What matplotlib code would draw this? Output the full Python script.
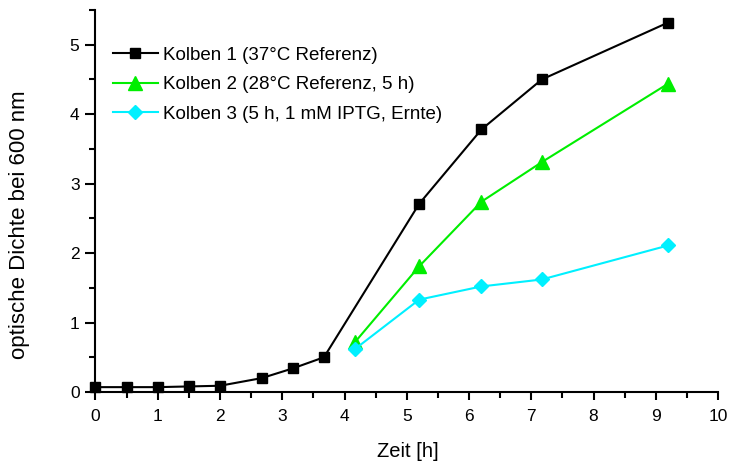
import matplotlib
matplotlib.use("Agg")
import matplotlib.pyplot as plt
from matplotlib.ticker import MultipleLocator

plt.rcParams['font.family'] = ['Liberation Sans', 'DejaVu Sans']

x1 = [0, 0.5, 1, 1.5, 2, 2.67, 3.17, 3.67, 5.2, 6.2, 7.17, 9.2]
y1 = [0.07, 0.07, 0.07, 0.08, 0.09, 0.20, 0.34, 0.50, 2.71, 3.78, 4.50, 5.32]
x2 = [4.17, 5.2, 6.2, 7.17, 9.2]
y2 = [0.72, 1.81, 2.74, 3.31, 4.44]
x3 = [4.17, 5.2, 6.2, 7.17, 9.2]
y3 = [0.62, 1.33, 1.52, 1.62, 2.11]
labels = ["Kolben 1 (37°C Referenz)", "Kolben 2 (28°C Referenz, 5 h)",
          "Kolben 3 (5 h, 1 mM IPTG, Ernte)"]

GREEN = '#00ee00'
CYAN = '#00f0ff'

fig = plt.figure(figsize=(7.3, 4.61), dpi=100)
ax = fig.add_axes([95.5/730, 69/461, (718-95.5)/730, 382/461])

ax.plot(x1, y1, color='black', lw=1.5, marker='s', ms=7, mfc='black', mec='black', label=labels[0])
ax.plot(x2, y2, color=GREEN, lw=1.5, marker='^', ms=10, mfc=GREEN, mec=GREEN, label=labels[1])
ax.plot(x3, y3, color=CYAN, lw=1.5, marker='D', ms=7.5, mfc=CYAN, mec=CYAN, label=labels[2])

ax.set_xlim(0, 10)
ax.set_ylim(0, 5.5)
ax.xaxis.set_major_locator(MultipleLocator(1))
ax.xaxis.set_minor_locator(MultipleLocator(0.5))
ax.yaxis.set_major_locator(MultipleLocator(1))
ax.yaxis.set_minor_locator(MultipleLocator(0.5))
for s in ['top', 'right']:
    ax.spines[s].set_visible(False)
for s in ['left', 'bottom']:
    ax.spines[s].set_linewidth(1.5)
ax.tick_params(axis='x', which='major', direction='out', length=6, width=1.5, labelsize=12.5, pad=6)
ax.tick_params(axis='y', which='major', direction='out', length=7.5, width=1.5, labelsize=12.5, pad=4)
ax.tick_params(axis='x', which='minor', direction='out', length=4, width=1.5)
ax.tick_params(axis='y', which='minor', direction='out', length=4.5, width=1.5)

ax.set_xlabel("Zeit [h]", fontsize=14.5)
ax.xaxis.set_label_coords(0.502, -0.13)
ax.xaxis.label.set_va('top')
ax.set_ylabel("optische Dichte bei 600 nm", fontsize=16)
ax.yaxis.set_label_coords(-0.105, 0.437)

ax.legend(loc='upper left', bbox_to_anchor=(0.028, 0.904), frameon=False, fontsize=13.5,
          handlelength=2.4, handletextpad=0.27, labelspacing=0.66,
          borderaxespad=0, borderpad=0)
for l in ax.get_lines():
    l.set_clip_on(False)

fig.savefig("out.png", dpi=100)
